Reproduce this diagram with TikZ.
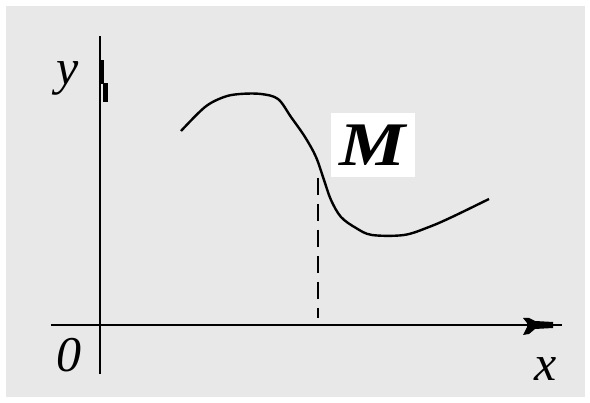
\documentclass[tikz,border=0pt]{standalone}
\usepackage{fontspec}
\setmainfont{Liberation Serif}
\definecolor{bg}{RGB}{232,232,232}
\tikzset{
  axisline/.style={line width=2.6pt, black},
  curveline/.style={line width=2.4pt, black},
  lbl/.style={inner sep=0pt, font=\fontsize{50}{50}\selectfont\itshape},
}
\begin{document}
\begin{tikzpicture}[x=1pt,y=-1pt]
\useasboundingbox (0,0) rectangle (590,403);
\fill[white] (0,0) rectangle (590,403);
\fill[bg] (6,6) rectangle (585,397);
% axes
\coordinate (xl) at (51,325);
\coordinate (xr) at (562,325);
\coordinate (yt) at (100,36);
\coordinate (yb) at (100,374);
\draw[axisline] (xl) -- (xr);
\draw[axisline] (yb) -- (yt);
% crude arrowheads
\fill[black] (523,318) -- (529,318) -- (535,321) -- (553,322) -- (553,328) -- (535,329) -- (529,334) -- (523,335) -- (527,327) -- (527,323) -- cycle;
\fill[black] (99,60) rectangle (104,84);
\fill[black] (102.5,83) rectangle (108,102);
% labels
\node[lbl] (ylab) at (68,78) {y};
\node[lbl] (xlab) at (546,369) {x};
\node[lbl] (olab) at (69,355) {0};
% curve
\draw[curveline] plot[smooth, tension=0.55] coordinates {
 (181,131) (205,107) (224,97) (240,94) (261,94) (278,99) (291,117)
 (305,137) (316,157) (324,180) (331,200) (341,217) (356,228) (372,235)
 (404,235) (429,227) (452,217) (489,199)};
% dashed drop
\coordinate (m) at (318,178);
\coordinate (mf) at (318,318);
\draw[line width=2.4pt, dash pattern=on 17pt off 9pt] (m) -- (mf);
% M label
\fill[white] (331,113) rectangle (415,177);
\node[inner sep=0pt, xscale=1.2,
      font=\fontsize{62}{62}\selectfont\bfseries\itshape] (mlab) at (373,145) {M};
\end{tikzpicture}
\end{document}
